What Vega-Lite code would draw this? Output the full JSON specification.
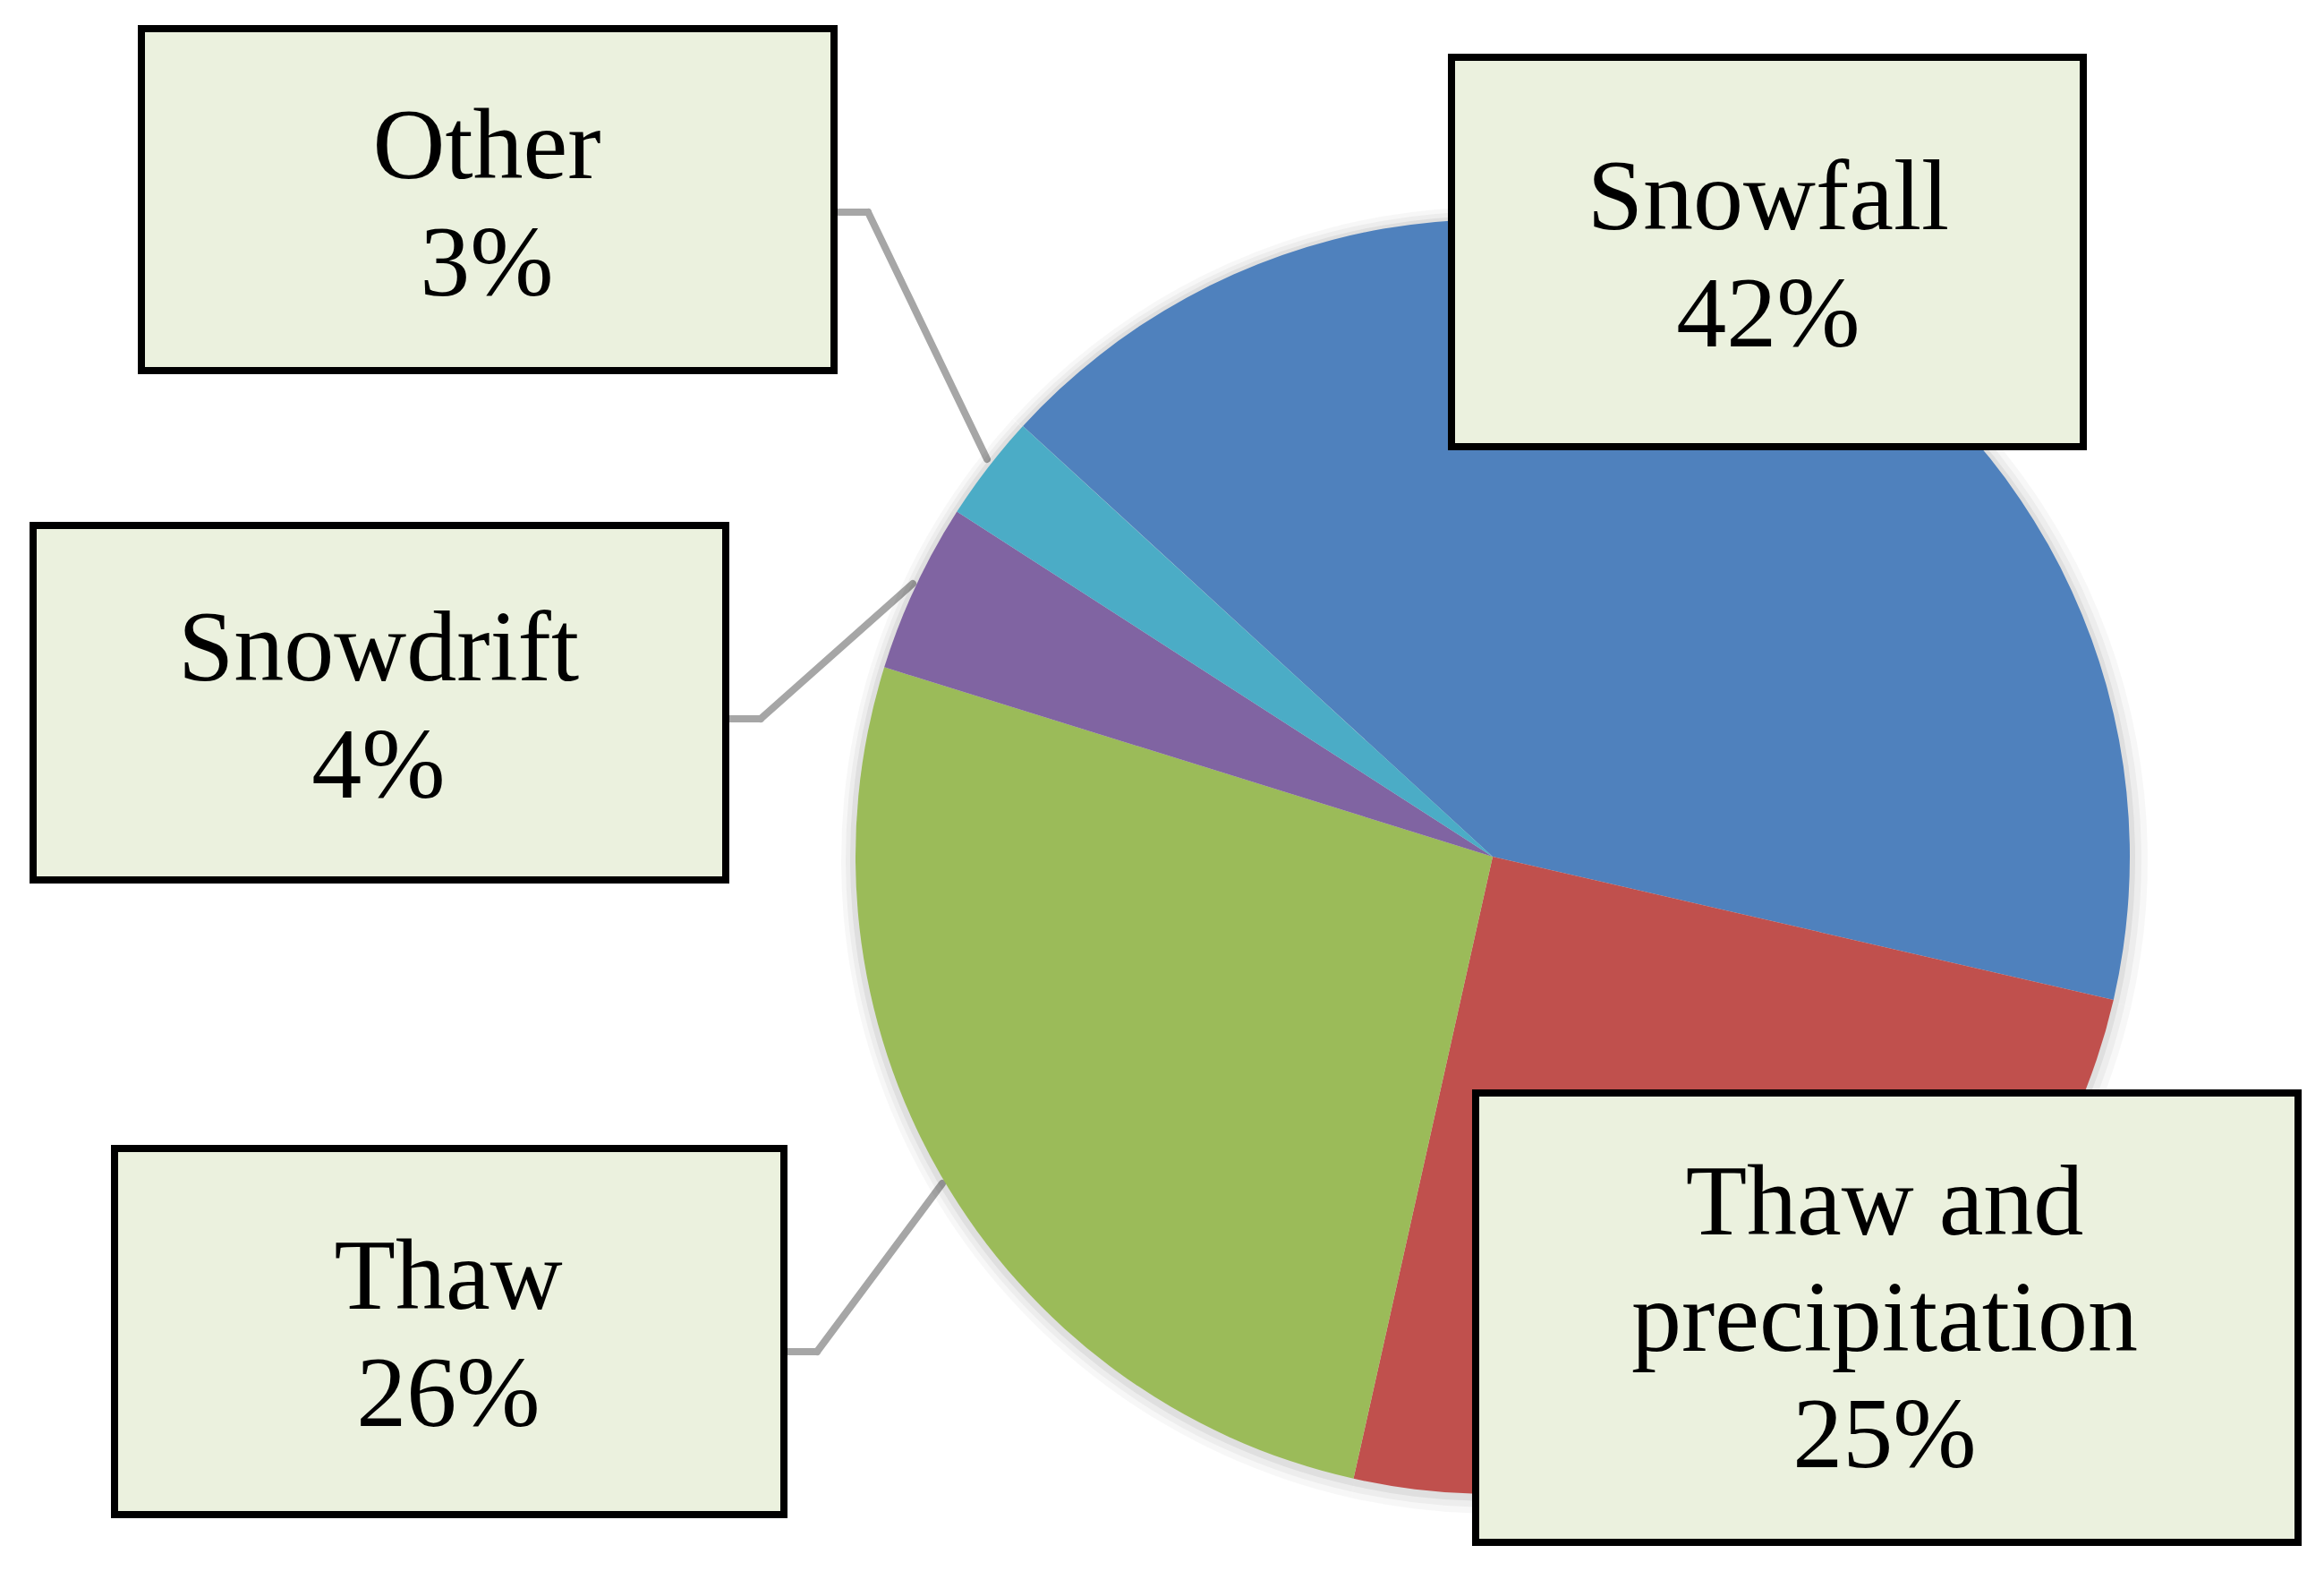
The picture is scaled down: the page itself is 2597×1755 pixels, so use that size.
{
  "$schema": "https://vega.github.io/schema/vega-lite/v6.json",
  "width": 2597,
  "height": 1755,
  "autosize": {"type": "none"},
  "padding": 0,
  "background": "white",
  "config": {"view": {"stroke": null}, "axis": {"disable": true}},
  "data": {"values": [
    {"cause": "Snowfall", "value": 41.8, "idx": 1, "pct": "42%", "label": "Snowfall\n42%"},
    {"cause": "Thaw and precipitation", "value": 24.9, "idx": 2, "pct": "25%", "label": "Thaw and\nprecipitation\n25%"},
    {"cause": "Thaw", "value": 26.3, "idx": 3, "pct": "26%", "label": "Thaw\n26%"},
    {"cause": "Snowdrift", "value": 4.3, "idx": 4, "pct": "4%", "label": "Snowdrift\n4%"},
    {"cause": "Other", "value": 2.7, "idx": 5, "pct": "3%", "label": "Other\n3%"}
  ]},
  "layer": [
    {
      "transform": [{"filter": "datum.cause === 'Other'"}],
      "mark": {"type": "rule", "stroke": "#A6A6A6", "strokeWidth": 8, "strokeCap": "round"},
      "encoding": {
        "x": {"datum": 937, "type": "quantitative", "scale": {"domain": [0, 2597], "nice": false, "zero": false}, "axis": null},
        "y": {"datum": 237, "type": "quantitative", "scale": {"domain": [0, 1755], "nice": false, "zero": false, "reverse": true}, "axis": null},
        "x2": {"datum": 970},
        "y2": {"datum": 237}
      }
    },
    {
      "transform": [{"filter": "datum.cause === 'Other'"}],
      "mark": {"type": "rule", "stroke": "#A6A6A6", "strokeWidth": 8, "strokeCap": "round"},
      "encoding": {
        "x": {"datum": 970, "type": "quantitative"},
        "y": {"datum": 237, "type": "quantitative"},
        "x2": {"datum": 1103},
        "y2": {"datum": 513}
      }
    },
    {
      "transform": [{"filter": "datum.cause === 'Snowdrift'"}],
      "mark": {"type": "rule", "stroke": "#A6A6A6", "strokeWidth": 8, "strokeCap": "round"},
      "encoding": {
        "x": {"datum": 815, "type": "quantitative"},
        "y": {"datum": 803, "type": "quantitative"},
        "x2": {"datum": 850},
        "y2": {"datum": 803}
      }
    },
    {
      "transform": [{"filter": "datum.cause === 'Snowdrift'"}],
      "mark": {"type": "rule", "stroke": "#A6A6A6", "strokeWidth": 8, "strokeCap": "round"},
      "encoding": {
        "x": {"datum": 850, "type": "quantitative"},
        "y": {"datum": 803, "type": "quantitative"},
        "x2": {"datum": 1020},
        "y2": {"datum": 652}
      }
    },
    {
      "transform": [{"filter": "datum.cause === 'Thaw'"}],
      "mark": {"type": "rule", "stroke": "#A6A6A6", "strokeWidth": 8, "strokeCap": "round"},
      "encoding": {
        "x": {"datum": 880, "type": "quantitative"},
        "y": {"datum": 1510, "type": "quantitative"},
        "x2": {"datum": 913},
        "y2": {"datum": 1510}
      }
    },
    {
      "transform": [{"filter": "datum.cause === 'Thaw'"}],
      "mark": {"type": "rule", "stroke": "#A6A6A6", "strokeWidth": 8, "strokeCap": "round"},
      "encoding": {
        "x": {"datum": 913, "type": "quantitative"},
        "y": {"datum": 1510, "type": "quantitative"},
        "x2": {"datum": 1053},
        "y2": {"datum": 1322}
      }
    },
    {
      "mark": {"type": "arc", "radius": 730, "fill": "#000000", "opacity": 0.03},
      "encoding": {
        "x": {"datum": 1670, "type": "quantitative"},
        "y": {"datum": 961, "type": "quantitative"},
        "theta": {"field": "value", "type": "quantitative", "stack": true, "scale": {"range": [-0.829, 5.454]}},
        "order": {"field": "idx", "type": "quantitative"}
      }
    },
    {
      "mark": {"type": "arc", "radius": 724, "fill": "#000000", "opacity": 0.04},
      "encoding": {
        "x": {"datum": 1669, "type": "quantitative"},
        "y": {"datum": 960, "type": "quantitative"},
        "theta": {"field": "value", "type": "quantitative", "stack": true},
        "order": {"field": "idx", "type": "quantitative"}
      }
    },
    {
      "mark": {"type": "arc", "radius": 718, "fill": "#000000", "opacity": 0.06},
      "encoding": {
        "x": {"datum": 1668, "type": "quantitative"},
        "y": {"datum": 959, "type": "quantitative"},
        "theta": {"field": "value", "type": "quantitative", "stack": true},
        "order": {"field": "idx", "type": "quantitative"}
      }
    },
    {
      "mark": {"type": "arc", "radius": 712, "strokeWidth": 0},
      "encoding": {
        "x": {"datum": 1668, "type": "quantitative"},
        "y": {"datum": 957, "type": "quantitative"},
        "theta": {"field": "value", "type": "quantitative", "stack": true},
        "order": {"field": "idx", "type": "quantitative"},
        "color": {"field": "cause", "type": "nominal", "legend": null,
          "scale": {"domain": ["Snowfall", "Thaw and precipitation", "Thaw", "Snowdrift", "Other"],
                    "range": ["#4F81BD", "#C0504D", "#9BBB59", "#8064A2", "#4BACC6"]}}
      }
    },
    {
      "transform": [{"filter": "datum.cause === 'Other'"}],
      "mark": {"type": "rect", "fill": "#EBF1DE", "stroke": "#000000", "strokeWidth": 8},
      "encoding": {"x": {"datum": 158, "type": "quantitative"}, "x2": {"datum": 932}, "y": {"datum": 32, "type": "quantitative"}, "y2": {"datum": 414}}
    },
    {
      "transform": [{"filter": "datum.cause === 'Snowfall'"}],
      "mark": {"type": "rect", "fill": "#EBF1DE", "stroke": "#000000", "strokeWidth": 8},
      "encoding": {"x": {"datum": 1622, "type": "quantitative"}, "x2": {"datum": 2328}, "y": {"datum": 64, "type": "quantitative"}, "y2": {"datum": 499}}
    },
    {
      "transform": [{"filter": "datum.cause === 'Snowdrift'"}],
      "mark": {"type": "rect", "fill": "#EBF1DE", "stroke": "#000000", "strokeWidth": 8},
      "encoding": {"x": {"datum": 37, "type": "quantitative"}, "x2": {"datum": 811}, "y": {"datum": 587, "type": "quantitative"}, "y2": {"datum": 983}}
    },
    {
      "transform": [{"filter": "datum.cause === 'Thaw'"}],
      "mark": {"type": "rect", "fill": "#EBF1DE", "stroke": "#000000", "strokeWidth": 8},
      "encoding": {"x": {"datum": 128, "type": "quantitative"}, "x2": {"datum": 876}, "y": {"datum": 1283, "type": "quantitative"}, "y2": {"datum": 1692}}
    },
    {
      "transform": [{"filter": "datum.cause === 'Thaw and precipitation'"}],
      "mark": {"type": "rect", "fill": "#EBF1DE", "stroke": "#000000", "strokeWidth": 8},
      "encoding": {"x": {"datum": 1649, "type": "quantitative"}, "x2": {"datum": 2568}, "y": {"datum": 1221, "type": "quantitative"}, "y2": {"datum": 1723}}
    },
    {
      "transform": [{"filter": "datum.cause === 'Other'"}],
      "mark": {"type": "text", "font": "Liberation Serif", "fontSize": 112, "lineHeight": 131, "lineBreak": "\n", "align": "center", "baseline": "alphabetic", "color": "#000000"},
      "encoding": {"x": {"datum": 544, "type": "quantitative"}, "y": {"datum": 199, "type": "quantitative"}, "text": {"field": "label"}}
    },
    {
      "transform": [{"filter": "datum.cause === 'Snowfall'"}],
      "mark": {"type": "text", "font": "Liberation Serif", "fontSize": 112, "lineHeight": 131, "lineBreak": "\n", "align": "center", "baseline": "alphabetic", "color": "#000000"},
      "encoding": {"x": {"datum": 1976, "type": "quantitative"}, "y": {"datum": 256, "type": "quantitative"}, "text": {"field": "label"}}
    },
    {
      "transform": [{"filter": "datum.cause === 'Snowdrift'"}],
      "mark": {"type": "text", "font": "Liberation Serif", "fontSize": 112, "lineHeight": 131, "lineBreak": "\n", "align": "center", "baseline": "alphabetic", "color": "#000000"},
      "encoding": {"x": {"datum": 423, "type": "quantitative"}, "y": {"datum": 760, "type": "quantitative"}, "text": {"field": "label"}}
    },
    {
      "transform": [{"filter": "datum.cause === 'Thaw'"}],
      "mark": {"type": "text", "font": "Liberation Serif", "fontSize": 112, "lineHeight": 131, "lineBreak": "\n", "align": "center", "baseline": "alphabetic", "color": "#000000"},
      "encoding": {"x": {"datum": 501, "type": "quantitative"}, "y": {"datum": 1462, "type": "quantitative"}, "text": {"field": "label"}}
    },
    {
      "transform": [{"filter": "datum.cause === 'Thaw and precipitation'"}],
      "mark": {"type": "text", "font": "Liberation Serif", "fontSize": 112, "lineHeight": 130, "lineBreak": "\n", "align": "center", "baseline": "alphabetic", "color": "#000000"},
      "encoding": {"x": {"datum": 2106, "type": "quantitative"}, "y": {"datum": 1379, "type": "quantitative"}, "text": {"field": "label"}}
    }
  ]
}
